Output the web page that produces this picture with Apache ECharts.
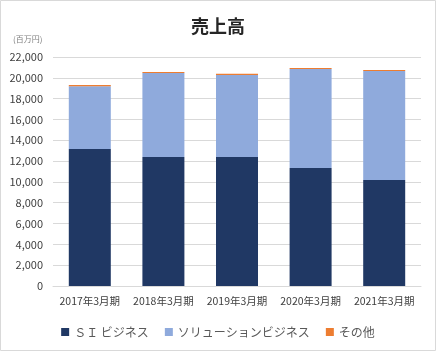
<!DOCTYPE html>
<html>
<head>
<meta charset="utf-8">
<script src="https://cdn.jsdelivr.net/npm/echarts@6/dist/echarts.min.js"></script>
<style>
  html, body { margin: 0; padding: 0; background: #fff; }
  #chart { width: 436px; height: 351px; }
</style>
</head>
<body>
<div id="chart"></div>
<script>
  var categories = ['2017年3月期', '2018年3月期', '2019年3月期', '2020年3月期', '2021年3月期'];
  var siValues = [13160, 12400, 12400, 11340, 10180];
  var solutionValues = [6040, 8060, 7870, 9510, 10470];
  var otherValues = [100, 110, 110, 100, 100];
  var seriesNames = ['ＳＩ ビジネス', 'ソリューションビジネス', 'その他'];

  var font = "'Noto Sans CJK JP', sans-serif";
  var myChart = echarts.init(document.getElementById('chart'));
  var option = {
    animation: false,
    title: {
      text: '売上高',
      left: 'center',
      top: 12,
      textStyle: { fontFamily: font, fontSize: 18, fontWeight: 'bold', color: '#262626' }
    },
    graphic: [
      { type: 'rect', shape: { x: 0.5, y: 0.5, width: 435, height: 350 },
        style: { fill: 'none', stroke: '#d9d9d9', lineWidth: 1 } },
      { type: 'text', left: 13, top: 35,
        style: { text: '(百万円)', fontFamily: font, fontSize: 8, fill: '#7f7f7f' } }
    ],
    color: ['#203864', '#8faadc', '#ed7d31'],
    grid: { left: 53, right: 15, top: 57, bottom: 65, containLabel: false },
    legend: {
      data: seriesNames,
      left: 'center',
      top: 321,
      itemWidth: 8,
      itemHeight: 8,
      itemGap: 16,
      icon: 'rect',
      textStyle: { fontFamily: font, fontSize: 12, color: '#595959' }
    },
    xAxis: {
      type: 'category',
      data: categories,
      axisLine: { lineStyle: { color: '#d9d9d9' } },
      axisTick: { show: false },
      axisLabel: { fontFamily: font, fontSize: 10.5, color: '#404040', margin: 10, interval: 0 }
    },
    yAxis: {
      type: 'value',
      min: 0,
      max: 22000,
      interval: 2000,
      axisLine: { show: false },
      axisTick: { show: false },
      splitLine: { lineStyle: { color: '#d9d9d9' } },
      axisLabel: {
        fontFamily: font, fontSize: 11, color: '#404040', margin: 10,
        formatter: function (v) { return v.toLocaleString('en-US'); }
      }
    },
    series: [
      { name: seriesNames[0], type: 'bar', stack: 'total', data: siValues, barWidth: 42 },
      { name: seriesNames[1], type: 'bar', stack: 'total', data: solutionValues, barWidth: 42 },
      { name: seriesNames[2], type: 'bar', stack: 'total', data: otherValues, barWidth: 42 }
    ]
  };
  myChart.setOption(option);
</script>
</body>
</html>
